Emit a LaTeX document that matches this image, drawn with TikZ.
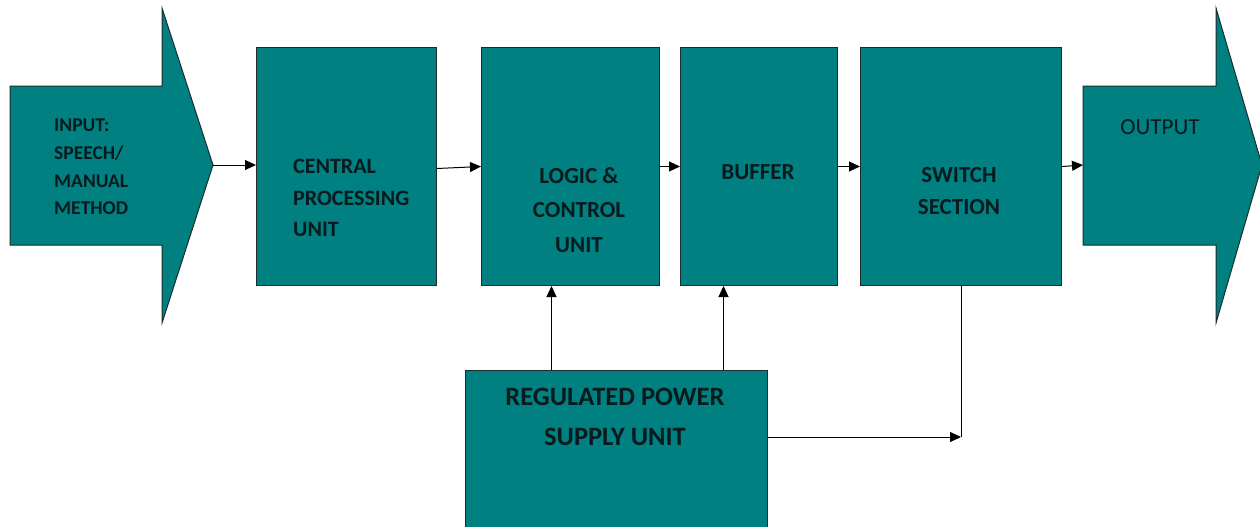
\documentclass[tikz,border=0pt]{standalone}
\usepackage{fontspec}
\setmainfont{Carlito}
\usetikzlibrary{arrows.meta}
\definecolor{tealfill}{HTML}{008080}
\definecolor{edgeink}{HTML}{1C2B2B}
\definecolor{textink}{HTML}{071A1E}
\begin{document}
\begin{tikzpicture}[x=1pt,y=-1pt,
  block/.style={draw=edgeink,line width=1pt,fill=tealfill,inner sep=0pt,anchor=north west},
  bigarrow/.style={draw=edgeink,line width=1pt,fill=tealfill,line join=miter},
  lbl/.style={inner sep=0pt,text=textink,font=\bfseries},
  conn/.style={draw=black,line width=1pt,-{Triangle[length=11pt,width=10pt]}},
  wire/.style={draw=black,line width=1pt}]
\useasboundingbox (0,0) rectangle (1260,527);

% input and output block arrows
\draw[bigarrow] (10,86) -- (162,86) -- (162,8) -- (213,165) -- (162,323) -- (162,245) -- (10,245) -- cycle;
\coordinate (intip) at (213,165);
\draw[bigarrow] (1083,86) -- (1216,86) -- (1216,8) -- (1262,165) -- (1216,323) -- (1216,245) -- (1083,245) -- cycle;
\coordinate (outtail) at (1083,165);

% processing chain
\node[block,minimum width=180pt,minimum height=238pt] (cpu) at (256,47) {};
\node[block,minimum width=178pt,minimum height=238pt] (logic) at (481,47) {};
\node[block,minimum width=157pt,minimum height=238pt] (buffer) at (680,47) {};
\node[block,minimum width=201pt,minimum height=238pt] (switch) at (860,47) {};
\node[block,minimum width=302pt,minimum height=170pt] (power) at (465,370) {};

% labels
\node[lbl,anchor=west,align=left,font=\bfseries\fontsize{19.5}{27.7}\selectfont] (tin) at (54,167) {INPUT:\\SPEECH/\\MANUAL\\METHOD};
\node[lbl,anchor=west,align=left,font=\bfseries\fontsize{22}{31.5}\selectfont] (tcpu) at (293,198) {CENTRAL\\PROCESSING\\UNIT};
\node[lbl,align=center,font=\bfseries\fontsize{23}{34.5}\selectfont] (tlogic) at (579,210) {LOGIC \&\\CONTROL\\UNIT};
\node[lbl,font=\bfseries\fontsize{23}{26}\selectfont] (tbuf) at (758,172) {BUFFER};
\node[lbl,align=center,font=\bfseries\fontsize{23}{32.5}\selectfont] (tsw) at (959,191) {SWITCH\\SECTION};
\node[lbl,font=\fontsize{23}{26}\selectfont] (tout) at (1160,127) {OUTPUT};
\node[lbl,align=center,font=\bfseries\fontsize{26.5}{40}\selectfont] (tpw) at (615,417) {REGULATED POWER\\SUPPLY UNIT};

% signal flow
\draw[conn] (intip) -- (intip -| cpu.west);
\draw[conn] ([yshift=-2pt]cpu.east) -- (logic.west);
\draw[conn] (logic.east) -- (buffer.west);
\draw[conn] (buffer.east) -- (switch.west);
\draw[conn] (switch.east) -- (outtail);

% power distribution
\draw[conn] ([xshift=-19pt]power.north -| logic.south) -- ([xshift=-19pt]logic.south);
\draw[conn] ([xshift=-35.5pt]power.north -| buffer.south) -- ([xshift=-35.5pt]buffer.south);
\coordinate (corner) at (961,437);
\draw[wire] (switch.south) -- (corner);
\draw[conn] (power.east |- corner) -- (corner);
\end{tikzpicture}
\end{document}
